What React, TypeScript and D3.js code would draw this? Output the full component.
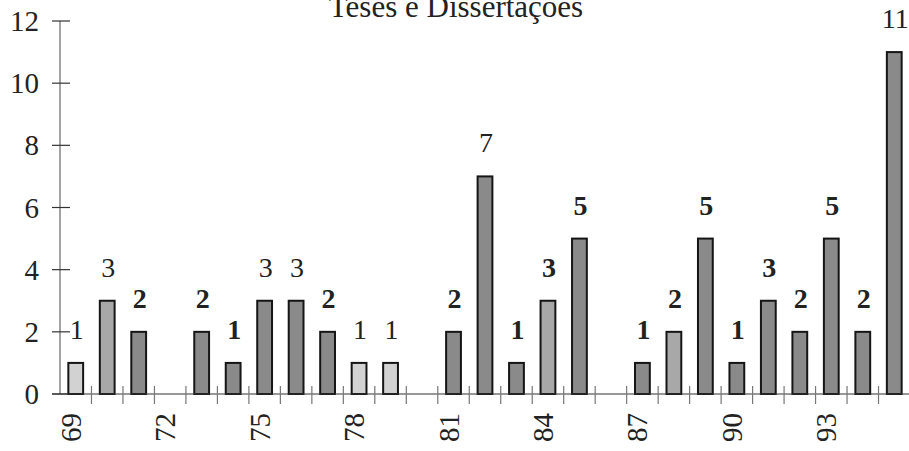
import React from 'react';
import * as d3 from 'd3';

// Teses e Dissertações por ano (69..95)
const years = [
  '69', '70', '71', '72', '73', '74', '75', '76', '77', '78', '79', '80', '81', '82',
  '83', '84', '85', '86', '87', '88', '89', '90', '91', '92', '93', '94', '95',
];
const counts = [1, 3, 2, 0, 2, 1, 3, 3, 2, 1, 1, 0, 2, 7, 1, 3, 5, 0, 1, 2, 5, 1, 3, 2, 5, 2, 11];
const yTicks = [0, 2, 4, 6, 8, 10, 12];
const xLabels = ['69', '72', '75', '78', '81', '84', '87', '90', '93'];
const title = 'Teses e Dissertaçoes';

// scan look: some bars lighter, some labels heavier
const lightBars = new Set(['69', '78', '79']);
const midBars = new Set(['70', '84', '88']);
const heavyLabels = new Set([
  '71', '73', '74', '77', '81', '83', '84', '85', '87', '88', '89', '90', '91', '92', '93', '94',
]);

const W = 909;
const H = 451;
const font = '"Liberation Serif", "Times New Roman", serif';

export default function App() {
  const x = d3.scaleBand<string>().domain(years).range([60, 910]).paddingInner(0).paddingOuter(0);
  const y = d3.scaleLinear().domain([0, 12]).range([394, 21]);
  const bw = x.bandwidth();
  const barW = bw * 0.47;

  return (
    <svg
      width={W}
      height={H}
      style={{ position: 'absolute', left: 0, top: 0, background: '#fff' }}
      fontFamily={font}
    >
      <text x={456} y={17} fontSize={31} textAnchor="middle" fill="#222">
        {title}
      </text>

      {/* y axis */}
      <line x1={60} x2={60} y1={y(12)} y2={y(0)} stroke="#666" strokeWidth={1.2} />
      {yTicks.map((t) => (
        <g key={t}>
          <line x1={52} x2={70} y1={y(t)} y2={y(t)} stroke="#333" strokeWidth={1.2} />
          <text x={39} y={y(t) + 10} fontSize={29} textAnchor="end" fill="#222">
            {t}
          </text>
        </g>
      ))}

      {/* bars */}
      {years.map((yr, i) => {
        const v = counts[i];
        if (!v) return null;
        const cx = (x(yr) as number) + bw / 2;
        const fill = lightBars.has(yr) ? '#d2d2d2' : midBars.has(yr) ? '#a8a8a8' : '#8a8a8a';
        return (
          <g key={yr}>
            <rect
              x={cx - barW / 2}
              y={y(v)}
              width={barW}
              height={y(0) - y(v)}
              fill={fill}
              stroke="#151515"
              strokeWidth={2}
            />
            <text
              x={cx + 1}
              y={y(v) - 24}
              fontSize={28}
              textAnchor="middle"
              fill="#222"
              fontWeight={heavyLabels.has(yr) ? 'bold' : 'normal'}
            >
              {v}
            </text>
          </g>
        );
      })}

      {/* x axis */}
      <line x1={52} x2={909} y1={y(0)} y2={y(0)} stroke="#333" strokeWidth={1.2} />
      {years.map((yr) => {
        const bx = (x(yr) as number) + bw;
        return (
          <line key={'t' + yr} x1={bx} x2={bx} y1={y(0) - 8} y2={y(0) + 10} stroke="#777" strokeWidth={1.2} />
        );
      })}
      {xLabels.map((yr) => {
        const cx = (x(yr) as number) + bw / 2 - 5;
        return (
          <text
            key={'l' + yr}
            transform={`translate(${cx + 10},413) rotate(-90)`}
            fontSize={29}
            textAnchor="end"
            fill="#222"
          >
            {yr}
          </text>
        );
      })}
    </svg>
  );
}
